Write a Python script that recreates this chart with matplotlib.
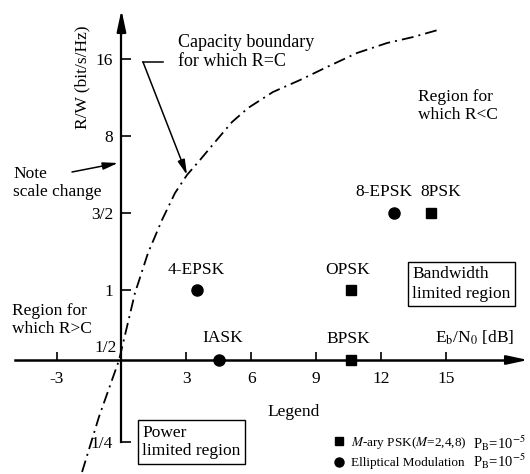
import numpy as np
import matplotlib
matplotlib.use('Agg')
import matplotlib.pyplot as plt
from matplotlib.lines import Line2D

plt.rcParams['font.family'] = ['Liberation Serif', 'DejaVu Serif']
plt.rcParams['mathtext.fontset'] = 'stix'

# ---------------- data ----------------
curve_ebno = [-1.82, -1.04, -0.11, 0.625, 1.226, 1.873, 2.473, 3.027, 3.628,
              4.321, 5.106, 5.845, 6.999, 8.247, 9.494, 10.88, 12.27, 13.47,
              14.62]
curve_rw = [0.194, 0.309, 0.5, 0.971, 1.215, 1.446, 2.317, 3.43, 4.75,
            7.02, 9.07, 10.29, 11.89, 13.24, 14.89, 16.89, 18.48, 19.50,
            20.78]

psk_names = ['BPSK', 'OPSK', '8PSK']
psk_ebno = [10.6, 10.6, 14.3]
psk_rw = [0.5, 1.0, 1.5]

ell_names = ['IASK', '4-EPSK', '8-EPSK']
ell_ebno = [4.5, 3.5, 12.6]
ell_rw = [0.5, 1.0, 1.5]

xticks = [-3, 3, 6, 9, 12, 15]
xticklabels = ['-3', '3', '6', '9', '12', '15']
yticks = [0.25, 1, 1.5, 8, 16]
yticklabels = ['1/4', '1', '3/2', '8', '16']

# ------------- "note scale change" axis: piecewise scale -------------
_T = np.log2([0.25, 0.5, 1.0, 1.5, 8.0, 16.0])
_P = np.array([-82., 0., 70., 147., 224., 301.])
_s0 = (_P[1] - _P[0]) / (_T[1] - _T[0])
_s1 = (_P[-1] - _P[-2]) / (_T[-1] - _T[-2])


def fwd(v):
    t = np.log2(np.clip(np.asarray(v, float), 1e-9, None))
    out = np.interp(t, _T, _P)
    out = np.where(t < _T[0], _P[0] + (t - _T[0]) * _s0, out)
    out = np.where(t > _T[-1], _P[-1] + (t - _T[-1]) * _s1, out)
    return out


def inv(p):
    p = np.asarray(p, float)
    t = np.interp(p, _P, _T)
    t = np.where(p < _P[0], _T[0] + (p - _P[0]) / _s0, t)
    t = np.where(p > _P[-1], _T[-1] + (p - _P[-1]) / _s1, t)
    return 2.0 ** t


W, H = 530, 474
fig = plt.figure(figsize=(W / 100, H / 100), dpi=100)
ax = fig.add_axes([0, 0, 1, 1])
ax.patch.set_alpha(0)
X0, X1 = -5.61, 18.87
ax.set_xlim(X0, X1)
ax.set_yscale('function', functions=(fwd, inv))
ax.set_ylim(float(inv(-114)), float(inv(360)))


def F(x, y):
    return (x / W, 1 - y / H)


def px2x(x):
    return X0 + x / W * (X1 - X0)


def py2y(y):
    return float(inv(360 - y))


# axes through the origin
for s in ['top', 'right']:
    ax.spines[s].set_visible(False)
ax.spines['left'].set_position(('data', 0))
ax.spines['bottom'].set_position(('data', 0.5))
ax.spines['left'].set_linewidth(1.6)
ax.spines['bottom'].set_linewidth(1.8)
ax.spines['left'].set_bounds(0.25, py2y(26))
ax.spines['bottom'].set_bounds(px2x(15), px2x(514))

ax.set_xticks(xticks, xticklabels)
ax.set_yticks(yticks, yticklabels)
ax.minorticks_off()
ax.tick_params(axis='x', direction='in', length=6, width=1.2, pad=8,
               labelsize=12.5)
ax.tick_params(axis='y', direction='in', length=7.5, width=1.2, pad=6,
               labelsize=12.5)

# axis arrow heads
arr = dict(arrowstyle='-|>,head_length=1.3,head_width=0.28', mutation_scale=10,
           lw=1.5, color='k', shrinkA=0, shrinkB=0)
ax.annotate('', xy=(px2x(528), 0.5), xytext=(px2x(505), 0.5), arrowprops=arr)
ax.annotate('', xy=(0, py2y(10)), xytext=(0, py2y(34)), arrowprops=arr)

ax.annotate('1/2', xy=(0, 0.5), xytext=(-5, 12), textcoords='offset pixels',
            ha='right', va='center', fontsize=12.5)

ax.set_ylabel('R/W (bit/s/Hz)', fontsize=12.5)
ax.yaxis.set_label_coords(*F(90, 77))
ax.set_xlabel('E$_\\mathrm{b}$/N$_0$ [dB]', fontsize=12.5)
ax.xaxis.set_label_coords(*F(475, 329))

# capacity boundary
ax.plot(curve_ebno, curve_rw, color='k', lw=1.3,
        ls=(0, (6.6, 2.8, 1.1, 2.8)))

# modulation points
ax.plot(psk_ebno, psk_rw, ls='', marker='s', ms=7.5, color='k', zorder=5,
        clip_on=False)
ax.plot(ell_ebno, ell_rw, ls='', marker='o', ms=8, color='k', zorder=5,
        clip_on=False)

psk_off = {'BPSK': (-3, 21), 'OPSK': (-3, 20), '8PSK': (10, 21)}
ell_off = {'IASK': (4, 22), '4-EPSK': (-1, 20), '8-EPSK': (-10, 21)}
for n, x, y in zip(psk_names, psk_ebno, psk_rw):
    ax.annotate(n, xy=(x, y), xytext=psk_off[n], textcoords='offset pixels',
                ha='center', va='center', fontsize=12.5)
for n, x, y in zip(ell_names, ell_ebno, ell_rw):
    ax.annotate(n, xy=(x, y), xytext=ell_off[n], textcoords='offset pixels',
                ha='center', va='center', fontsize=12.5)

# annotations
ax.text(*F(178, 52), 'Capacity boundary\nfor which R=C', transform=ax.transAxes,
        ha='left', va='center', fontsize=13, linespacing=1.15)
ax.plot(*zip(F(163, 62), F(143, 62)), transform=ax.transAxes, color='k', lw=1.1)
ax.annotate('', xy=(3.027, 3.43), xytext=F(143, 62), textcoords='axes fraction',
            arrowprops=dict(arrowstyle='-|>,head_length=0.9,head_width=0.22',
                            mutation_scale=10, lw=1.1, color='k',
                            shrinkA=0, shrinkB=0))
ax.text(*F(13, 183), 'Note\nscale change', transform=ax.transAxes,
        ha='left', va='center', fontsize=12.5, linespacing=1.15)
ax.annotate('', xy=F(118, 163), xycoords='axes fraction',
            xytext=F(72, 172), textcoords='axes fraction',
            arrowprops=dict(arrowstyle='-|>,head_length=0.9,head_width=0.22',
                            mutation_scale=10, lw=1.1, color='k',
                            shrinkA=0, shrinkB=0))
ax.text(*F(418, 106), 'Region for\nwhich R<C', transform=ax.transAxes,
        ha='left', va='center', fontsize=12.5, linespacing=1.15)
ax.text(*F(12, 320), 'Region for\nwhich R>C', transform=ax.transAxes,
        ha='left', va='center', fontsize=12.5, linespacing=1.15)

box = dict(boxstyle='square,pad=0.25', fc='white', ec='k', lw=1.0)
ax.text(*F(412, 284), 'Bandwidth\nlimited region', transform=ax.transAxes,
        ha='left', va='center', fontsize=12.5, linespacing=1.3, bbox=box)
ax.text(*F(142, 442), 'Power\nlimited region', transform=ax.transAxes,
        ha='left', va='center', fontsize=12.5, linespacing=1.2, bbox=box)

# legend
ax.text(*F(267, 412), 'Legend', transform=ax.transAxes, ha='left',
        va='center', fontsize=12.5)
handles = [Line2D([], [], ls='', marker='s', ms=6, color='k'),
           Line2D([], [], ls='', marker='o', ms=6.5, color='k')]
labels = ['$M$-ary PSK($M$=2,4,8)', 'Elliptical Modulation']
ax.legend(handles, labels, loc='upper left', bbox_to_anchor=F(334, 435),
          bbox_transform=ax.transAxes, frameon=False, fontsize=9.5,
          handlelength=0.8, handletextpad=0.5, labelspacing=0.45,
          borderpad=0, borderaxespad=0)
for yy in (443, 461):
    ax.text(*F(473, yy), 'P$_\\mathrm{B}$=10$^{-5}$', transform=ax.transAxes,
            ha='left', va='center', fontsize=10.5)

fig.savefig('out.png', dpi=100)
